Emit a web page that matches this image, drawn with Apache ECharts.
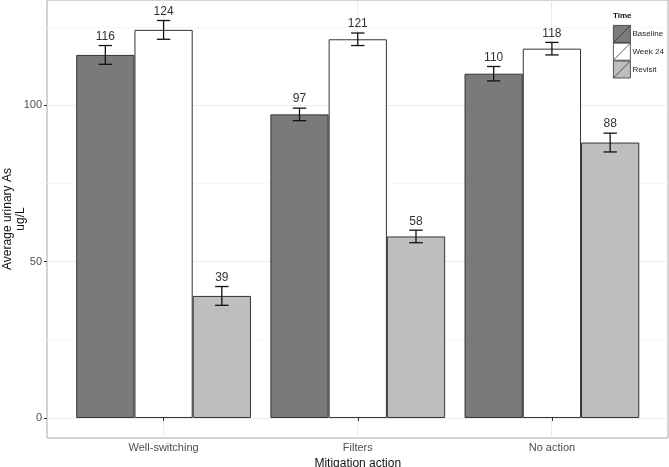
<!DOCTYPE html>
<html>
<head>
<meta charset="utf-8">
<script src="https://cdn.jsdelivr.net/npm/echarts@6/dist/echarts.min.js"></script>
<style>html,body{margin:0;padding:0;background:#fff}#c{width:669px;height:467px}</style>
</head>
<body>
<div id="c"></div>
<script>
const categories = ['Well-switching', 'Filters', 'No action'];
const seriesNames = ['Baseline', 'Week 24', 'Revisit'];
const baseline = [116, 97, 110];
const week24 = [124, 121, 118];
const revisit = [39, 58, 88];
const baselineErr = [3, 2, 2.3];
const week24Err = [3, 2, 2];
const revisitErr = [3, 2, 3];
const yTicks = [0, 50, 100];
const yMinor = [25, 75, 125];

const values = [baseline, week24, revisit];
const errs = [baselineErr, week24Err, revisitErr];
const fills = ['#7a7a7a', '#ffffff', '#bebebe'];
const FONT = 'Liberation Sans, Arial, sans-serif';

const chart = echarts.init(document.getElementById('c'), null, {renderer: 'canvas'});

const errData = [];
values.forEach((arr, s) => arr.forEach((v, i) => errData.push([i, v, errs[s][i], s])));

const gridMarks = [];
yTicks.forEach(v => gridMarks.push({yAxis: v, lineStyle: {color: '#ebebeb', width: 1, type: 'solid'}}));
yMinor.forEach(v => gridMarks.push({yAxis: v, lineStyle: {color: '#f7f7f7', width: 1, type: 'solid'}}));
categories.forEach((c, i) => gridMarks.push({xAxis: i + 1, lineStyle: {color: '#ebebeb', width: 1, type: 'solid'}}));

const barSeries = seriesNames.map((name, s) => ({
  name: name,
  type: 'bar',
  xAxisIndex: 1, yAxisIndex: 1,
  data: values[s],
  barGap: '0%',
  barCategoryGap: '10%',
  itemStyle: {color: fills[s], borderColor: '#333', borderWidth: 1},
  z: 3
}));

const option = {
  animation: false,
  textStyle: {fontFamily: FONT},
  title: {
    text: 'Time', left: 613, top: 12, padding: 0,
    textStyle: {fontSize: 8, fontWeight: 'bold', color: '#111', fontFamily: FONT}
  },
  legend: {
    data: seriesNames,
    orient: 'vertical',
    left: 613, top: 25, padding: 0,
    itemWidth: 17, itemHeight: 17, itemGap: 0,
    icon: 'path://M0 0H20V20H0Z M0 20L20 0',
    itemStyle: {borderWidth: 0.8, borderColor: '#333'},
    textStyle: {fontSize: 8, color: '#222', fontFamily: FONT, padding: [0, 0, 0, -3]},
    selectedMode: false
  },
  grid: [
    {left: 47, top: 0, width: 621, height: 438, show: true, borderColor: '#a8a8a8', borderWidth: 1, backgroundColor: 'transparent', outerBoundsMode: 'none', containLabel: false},
    {left: 66.5, top: 0, width: 582.5, height: 438, outerBoundsMode: 'none', containLabel: false}
  ],
  xAxis: [
    {gridIndex: 0, type: 'value', min: 0.4, max: 3.6, show: false},
    {
      gridIndex: 1, type: 'category', data: categories,
      axisLine: {show: false},
      axisTick: {show: true, alignWithLabel: true, length: 3, lineStyle: {color: '#333'}},
      axisLabel: {color: '#4d4d4d', fontSize: 11, margin: 4, fontFamily: FONT},
      name: 'Mitigation action', nameLocation: 'middle', nameGap: 17,
      nameTextStyle: {color: '#111', fontSize: 12, fontFamily: FONT}
    }
  ],
  yAxis: [
    {
      gridIndex: 0, type: 'value', min: -6.4, max: 133.55,
      axisLine: {show: false},
      axisTick: {show: true, length: 3, customValues: yTicks, lineStyle: {color: '#333'}},
      axisLabel: {color: '#4d4d4d', fontSize: 11, margin: 5, customValues: yTicks, fontFamily: FONT},
      splitLine: {show: false},
      name: 'Average urinary As\nug/L', nameLocation: 'middle', nameRotate: 90, nameGap: 20,
      nameMoveOverlap: false,
      nameTextStyle: {color: '#111', fontSize: 12, lineHeight: 13, fontFamily: FONT}
    },
    {gridIndex: 1, type: 'value', min: -6.4, max: 133.55, show: false}
  ],
  series: [
    {
      type: 'line', xAxisIndex: 0, yAxisIndex: 0, data: [], silent: true, z: 0,
      markLine: {silent: true, z: 0, symbol: 'none', label: {show: false}, animation: false, data: gridMarks}
    },
    ...barSeries,
    {
      type: 'custom',
      xAxisIndex: 1, yAxisIndex: 1,
      data: errData,
      z: 5,
      silent: true,
      renderItem: function (params, api) {
        const cat = api.value(0), v = api.value(1), e = api.value(2), s = api.value(3);
        const band = api.size([1, 0])[0];
        const bw = band * 0.9 / 3;
        const cx = api.coord([cat, v])[0] + (s - 1) * bw;
        const yTop = api.coord([cat, v + e])[1];
        const yBot = api.coord([cat, v - e])[1];
        const cap = bw * 0.115;
        const ls = {stroke: '#111', lineWidth: 1.3};
        return {
          type: 'group',
          children: [
            {type: 'line', shape: {x1: cx, y1: yTop, x2: cx, y2: yBot}, style: ls},
            {type: 'line', shape: {x1: cx - cap, y1: yTop, x2: cx + cap, y2: yTop}, style: ls},
            {type: 'line', shape: {x1: cx - cap, y1: yBot, x2: cx + cap, y2: yBot}, style: ls},
            {type: 'text', style: {text: String(v), x: cx, y: yTop - 3, textAlign: 'center', textVerticalAlign: 'bottom', fill: '#333', font: '12px ' + FONT}}
          ]
        };
      }
    }
  ]
};
chart.setOption(option);
</script>
</body>
</html>
